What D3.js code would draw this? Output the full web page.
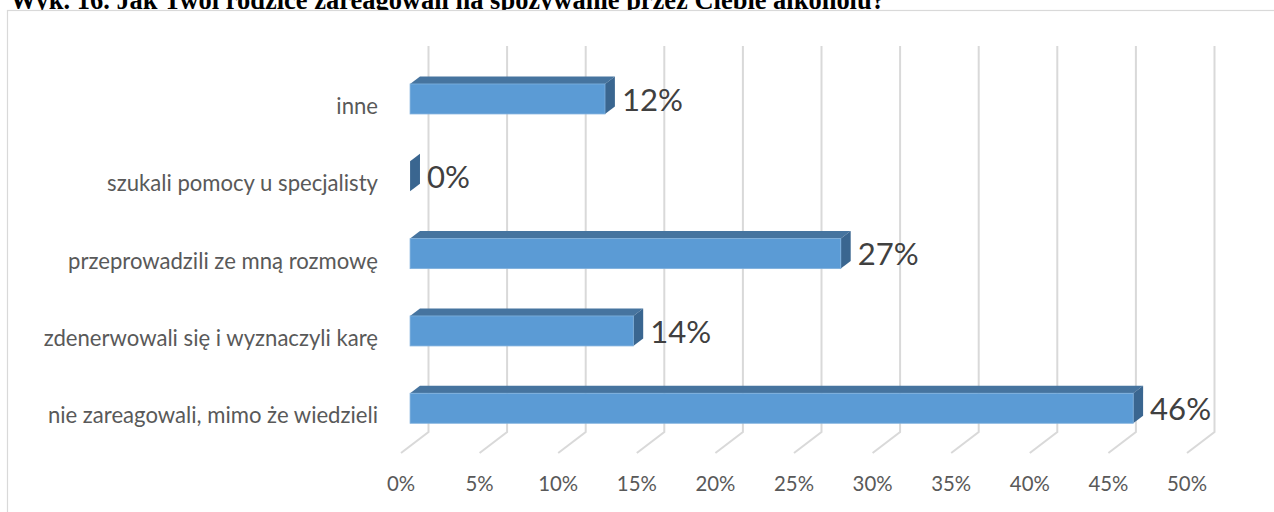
<!DOCTYPE html>
<html><head><meta charset="utf-8">
<script src="https://cdn.jsdelivr.net/npm/d3@7"></script>
<style>html,body{margin:0;padding:0;background:#fff;}svg{display:block;}</style>
</head><body>
<script>
const title = "Wyk. 16. Jak Twoi rodzice zareagowali na spożywanie przez Ciebie alkoholu?";
const categories = ["inne","szukali pomocy u specjalisty","przeprowadzili ze mną rozmowę","zdenerwowali się i wyznaczyli karę","nie zareagowali, mimo że wiedzieli"];
const values = [12.4, 0, 27.4, 14.2, 46.0];
const tickValues = [0,5,10,15,20,25,30,35,40,45,50];

const W = 1274, H = 512;
const svg = d3.select("body").append("svg").attr("width", W).attr("height", H);

const SANS = "Lato, 'Open Sans', sans-serif";
const SERIF = "'Liberation Serif', 'DejaVu Serif', serif";

function fitSize(text, family, weight, target) {
  const t = svg.append("text").attr("font-family", family).attr("font-weight", weight)
    .attr("font-size", 100).text(text);
  const w = t.node().getComputedTextLength();
  t.remove();
  return 100 * target / w;
}

// title (drawn first so the chart box covers its lower part)
const titleSize = fitSize(title, SERIF, "bold", 875);
svg.append("text").attr("x", 10).attr("y", 8.5)
  .attr("font-family", SERIF).attr("font-weight", "bold").attr("font-size", titleSize)
  .attr("fill", "#000").text(title);

// chart box
svg.append("rect").attr("x", 7.5).attr("y", 10.5).attr("width", W + 20).attr("height", H + 20)
  .attr("fill", "#fff").attr("stroke", "#d9d9d9").attr("stroke-width", 1.2);

// scales
const x = d3.scaleLinear().domain([0, 50]).range([401, 1187]);
const y = d3.scalePoint().domain(categories).range([105.9, 415.2]);
const DX = 27.5, DY = -21;
const floorY = 453, wallTop = 46;
const f1 = 0.33, f2 = 0.69, halfH = 15;

// gridlines (back wall + floor)
svg.append("g").selectAll("path").data(tickValues).join("path")
  .attr("d", t => `M${x(t)+DX},${wallTop}V${floorY+DY}L${x(t)},${floorY}`)
  .attr("fill", "none").attr("stroke", "#d9d9d9").attr("stroke-width", 2);

// tick labels
const tickSize = fitSize("10%", SANS, "normal", 40);
svg.append("g").selectAll("text").data(tickValues).join("text")
  .attr("x", t => x(t)).attr("y", 490.5).attr("text-anchor", "middle")
  .attr("font-family", SANS).attr("font-size", tickSize).attr("fill", "#595959")
  .text(t => t + "%");

// category labels
const catSize = fitSize("szukali pomocy u specjalisty", SANS, "normal", 271);
svg.append("g").selectAll("text").data(categories).join("text")
  .attr("x", 378).attr("y", c => y(c) + 8).attr("text-anchor", "end")
  .attr("font-family", SANS).attr("font-size", catSize).attr("fill", "#595959")
  .text(c => c);

// bars
const data = categories.map((c, i) => ({c, v: values[i]}));
const bars = svg.append("g").selectAll("g").data(data).join("g");
const geo = d => {
  const cy = y(d.c);
  return {
    xl1: x(0) + f1*DX, xr1: x(d.v) + f1*DX, xl2: x(0) + f2*DX, xr2: x(d.v) + f2*DX,
    yt1: cy + f1*DY - halfH, yb1: cy + f1*DY + halfH,
    yt2: cy + f2*DY - halfH, yb2: cy + f2*DY + halfH
  };
};
bars.append("path").attr("fill", "#46749f")
  .attr("d", d => { const g = geo(d); return `M${g.xl1},${g.yt1}L${g.xr1},${g.yt1}L${g.xr2},${g.yt2}L${g.xl2},${g.yt2}Z`; });
bars.append("path").attr("fill", "#3a6690")
  .attr("d", d => { const g = geo(d); return `M${g.xr1},${g.yt1}L${g.xr2},${g.yt2}L${g.xr2},${g.yb2}L${g.xr1},${g.yb1}Z`; });
bars.filter(d => d.v > 0).append("rect").attr("fill", "#5b9bd5")
  .attr("stroke", "#7fb0dd").attr("stroke-width", 0.8)
  .attr("x", d => geo(d).xl1).attr("y", d => geo(d).yt1)
  .attr("width", d => geo(d).xr1 - geo(d).xl1).attr("height", 2*halfH);

// value labels
const fmt = d3.format(".0%");
const valSize = fitSize("27%", SANS, "normal", 61);
svg.append("g").selectAll("text").data(data).join("text")
  .attr("x", d => geo(d).xr2 + 7).attr("y", d => y(d.c) + f1*DY + 11.6)
  .attr("font-family", SANS).attr("font-size", valSize).attr("fill", "#404040")
  .text(d => fmt(d.v / 100));
</script>
</body></html>
